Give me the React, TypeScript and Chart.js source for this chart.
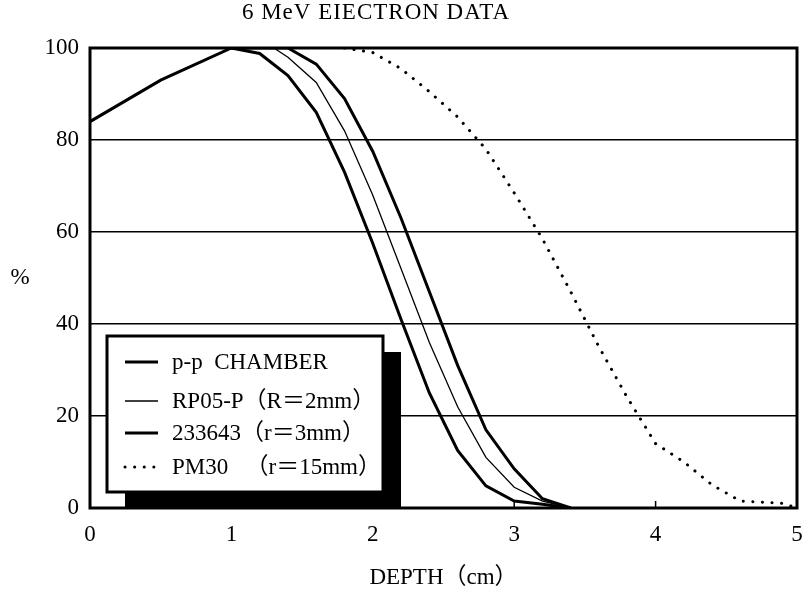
import React, { useEffect, useRef } from "react";
import { Chart, registerables } from "chart.js";

Chart.register(...registerables);

const chartTitle = "6 MeV EIECTRON DATA";
const xAxisTitle = "DEPTH（cm）";
const yAxisTitle = "%";

const ppDepth = [0, 0.5, 1.0, 1.2, 1.4, 1.6, 1.8, 2.0, 2.2, 2.4, 2.6, 2.8, 3.0, 3.2, 3.4];
const ppValue = [84, 93, 100, 98.8, 94, 86, 73, 57.5, 41, 25, 12.5, 4.8, 1.5, 0.8, 0];

const rpDepth = [1.0, 1.3, 1.4, 1.6, 1.8, 2.0, 2.2, 2.4, 2.6, 2.8, 3.0, 3.2, 3.4];
const rpValue = [100, 100, 98, 92.5, 82, 68, 52, 36, 22, 11, 4.5, 1.5, 0];

const c233Depth = [1.0, 1.4, 1.6, 1.8, 2.0, 2.2, 2.4, 2.6, 2.8, 3.0, 3.2, 3.4];
const c233Value = [100, 100, 96.5, 89, 77.5, 63, 47, 31, 17, 8.5, 2, 0];

const pmDepth = [1.8, 2.0, 2.2, 2.4, 2.6, 2.8, 3.0, 3.2, 3.4, 3.6, 3.8, 4.0, 4.2, 4.4, 4.6, 4.8, 4.9, 5.0];
const pmValue = [100, 99, 95.5, 90.5, 85, 78, 68.5, 58.5, 47, 35, 24, 14, 10, 5, 1.5, 1.2, 1.0, 0];

const seriesLabels = [
  "p-p  CHAMBER",
  "RP05-P（R＝2mm）",
  "233643（r＝3mm）",
  "PM30 　（r＝15mm）",
];

const xTicks = [0, 1, 2, 3, 4, 5];
const yTicks = [0, 20, 40, 60, 80, 100];

const FONT = '"Liberation Serif", "Noto Sans CJK JP", serif';

function toPoints(xs: number[], ys: number[]) {
  return xs.map((x, i) => ({ x, y: ys[i] }));
}

const decorPlugin = {
  id: "decor",
  afterDraw(chart: any) {
    const { ctx, chartArea: a, scales } = chart;
    const xs = scales.x;
    ctx.save();
    ctx.fillStyle = "#000";
    ctx.strokeStyle = "#000";

    // legend with shadow
    const bx = a.left + 17;
    const by = a.top + 288;
    const bw = 276;
    const bh = 156;
    ctx.fillRect(bx + 18, by + 16, bw, a.bottom - (by + 16));
    ctx.fillStyle = "#fff";
    ctx.fillRect(bx, by, bw, bh);
    ctx.lineWidth = 3;
    ctx.strokeRect(bx, by, bw, bh);
    const rowY = [26, 65, 97, 131];
    chart.data.datasets.forEach((ds: any, i: number) => {
      const y = by + rowY[i];
      ctx.save();
      ctx.strokeStyle = "#000";
      ctx.lineWidth = ds.borderWidth;
      ctx.lineCap = ds.borderCapStyle || "butt";
      ctx.setLineDash(ds.borderDash || []);
      ctx.beginPath();
      ctx.moveTo(bx + 18, y);
      ctx.lineTo(bx + 51, y);
      ctx.stroke();
      ctx.restore();
      ctx.fillStyle = "#000";
      ctx.font = `23px ${FONT}`;
      ctx.textAlign = "left";
      ctx.textBaseline = "middle";
      ctx.fillText(ds.label, bx + 65, y + 1);
    });

    // frame
    ctx.lineWidth = 3;
    ctx.strokeStyle = "#000";
    ctx.strokeRect(a.left, a.top, a.right - a.left, a.bottom - a.top);

    // small inward ticks on the bottom axis
    ctx.lineWidth = 1.5;
    xTicks.slice(1, -1).forEach((v) => {
      const px = xs.getPixelForValue(v);
      ctx.beginPath();
      ctx.moveTo(px, a.bottom);
      ctx.lineTo(px, a.bottom - 7);
      ctx.stroke();
    });

    // texts
    ctx.fillStyle = "#000";
    ctx.textBaseline = "middle";
    ctx.textAlign = "center";
    ctx.font = `23px ${FONT}`;
    (ctx as any).letterSpacing = "1px";
    ctx.fillText(chartTitle, a.left + 286, 13);
    (ctx as any).letterSpacing = "0px";
    ctx.fillText(xAxisTitle, (a.left + a.right) / 2, a.bottom + 70);
    ctx.fillText(yAxisTitle, 20, (a.top + a.bottom) / 2);
    ctx.restore();
  },
};

export default function App() {
  const ref = useRef<HTMLCanvasElement | null>(null);

  useEffect(() => {
    if (!ref.current) return;
    const chart = new Chart(ref.current, {
      type: "line",
      data: {
        datasets: [
          {
            label: seriesLabels[0],
            data: toPoints(ppDepth, ppValue),
            borderColor: "#000",
            borderWidth: 3,
            pointRadius: 0,
            tension: 0,
          },
          {
            label: seriesLabels[1],
            data: toPoints(rpDepth, rpValue),
            borderColor: "#000",
            borderWidth: 1.3,
            pointRadius: 0,
            tension: 0,
          },
          {
            label: seriesLabels[2],
            data: toPoints(c233Depth, c233Value),
            borderColor: "#000",
            borderWidth: 3,
            pointRadius: 0,
            tension: 0,
          },
          {
            label: seriesLabels[3],
            data: toPoints(pmDepth, pmValue),
            borderColor: "#000",
            borderWidth: 3,
            borderDash: [0.1, 9.5],
            borderCapStyle: "round",
            pointRadius: 0,
            tension: 0,
          },
        ] as any,
      },
      options: {
        animation: false,
        responsive: false,
        layout: { padding: { left: 0, top: 48, right: 10, bottom: 0 } },
        plugins: {
          legend: { display: false },
          title: { display: false },
          tooltip: { enabled: false },
        },
        scales: {
          x: {
            type: "linear",
            min: 0,
            max: 5,
            afterFit: (s: any) => {
              s.height = 84;
              s.paddingLeft = 0;
              s.paddingRight = 0;
            },
            afterBuildTicks: (s: any) => {
              s.ticks = xTicks.map((v) => ({ value: v }));
            },
            grid: { display: false, drawTicks: false },
            border: { display: false },
            ticks: {
              color: "#000",
              padding: 13,
              maxRotation: 0,
              font: { family: FONT, size: 23 },
            },
          },
          y: {
            type: "linear",
            min: 0,
            max: 100,
            afterFit: (s: any) => {
              s.width = 90;
              s.paddingTop = 0;
              s.paddingBottom = 0;
            },
            afterBuildTicks: (s: any) => {
              s.ticks = yTicks.map((v) => ({ value: v }));
            },
            grid: {
              drawTicks: false,
              lineWidth: 1.5,
              color: (c: any) =>
                c.tick && (c.tick.value === 0 || c.tick.value === 100) ? "rgba(0,0,0,0)" : "#000",
            },
            border: { display: false },
            ticks: {
              color: "#000",
              padding: 11,
              font: { family: FONT, size: 23 },
            },
          },
        },
      },
      plugins: [decorPlugin],
    } as any);
    return () => chart.destroy();
  }, []);

  return (
    <div style={{ position: "fixed", left: 0, top: 0, width: 807, height: 592, background: "#fff" }}>
      <canvas ref={ref} width={807} height={592} style={{ display: "block" }} />
    </div>
  );
}
